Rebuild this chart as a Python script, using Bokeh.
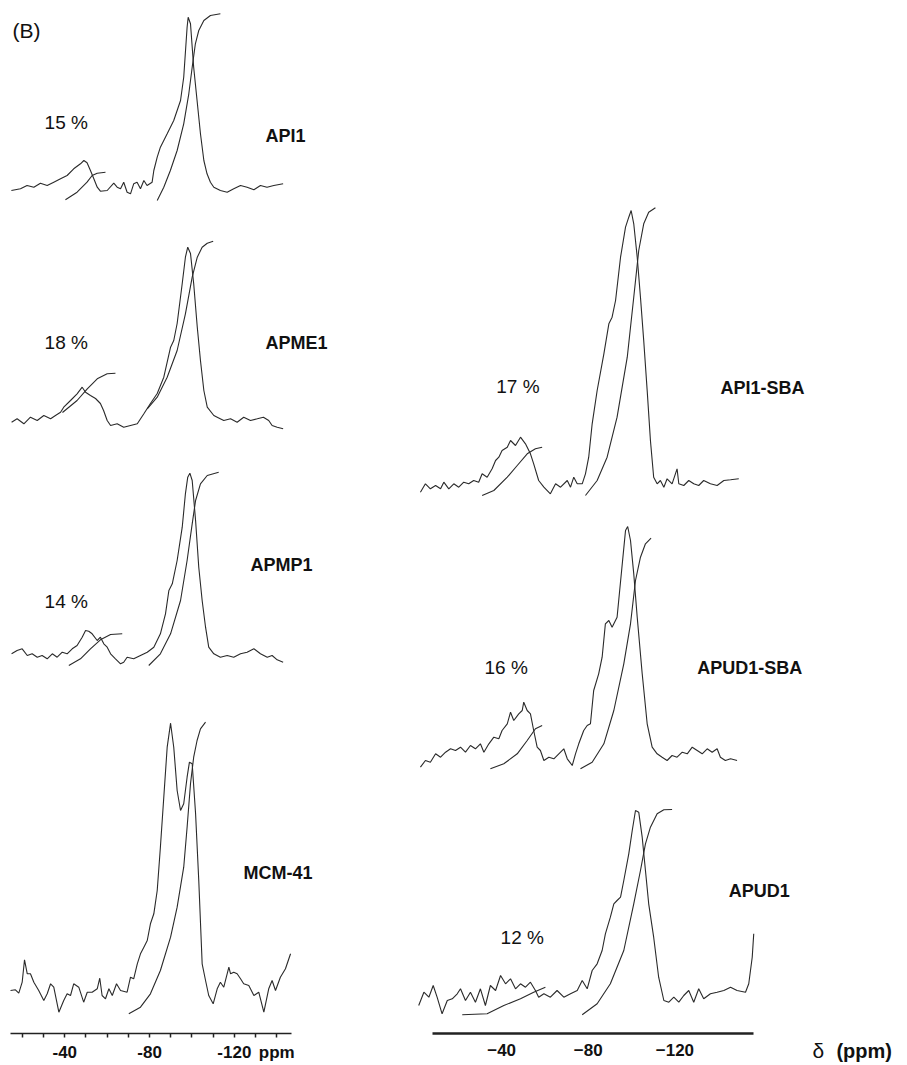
from bokeh.plotting import figure
from bokeh.layouts import row
from bokeh.models import Range1d, FixedTicker
from bokeh.core.properties import value
from bokeh.embed import file_html
from bokeh.resources import INLINE

FONT = "Liberation Sans"
INK = "#2a2a2a"

# ---------------- data: (chemical shift ppm, intensity a.u.) ----------------
API1_TRACE = [(-14.8,0),(-19.1,1.7),(-22.2,5),(-25.4,3.3),(-28.5,7.3),(-31.7,5),(-34.8,8.3),(-38.0,11.7),(-41.1,15),(-44.2,21.7),(-47.4,26.7),(-49.0,30),(-50.5,27.7),(-52.1,20),(-53.7,11.7),(-55.3,3.3),(-56.8,-0.7),(-60.0,0),(-63.1,7.3),(-64.7,3.3),(-66.3,1.7),(-67.8,8.3),(-69.4,-1.7),(-71.0,-3.3),(-72.5,6.7),(-74.1,8.3),(-75.7,1.7),(-77.3,10),(-78.8,5),(-81.2,8.3),(-82.0,20),(-83.6,33.3),(-85.1,43.3),(-88.3,56.7),(-91.4,70),(-94.6,90),(-96.1,113.3),(-97.7,163.3),(-98.2,173.3),(-99.3,166.7),(-100.8,123.3),(-102.4,90),(-104.0,56.7),(-105.6,30),(-107.1,16.7),(-108.7,8.3),(-110.3,3.3),(-113.4,0),(-116.6,-1.7),(-119.7,1.7),(-122.9,5),(-126.0,3.3),(-129.2,0.7),(-132.3,5),(-135.4,3.3),(-138.6,5),(-143.0,6.7)]
API1_INT_T = [(-40.3,-9.3),(-45.8,-1.7),(-50.5,8.3),(-52.9,15),(-55.3,17.3),(-59.2,18.3)]
API1_INT_Q = [(-83.6,-10),(-86.7,3.3),(-89.8,20),(-93.0,40),(-96.1,66.7),(-98.5,96.7),(-100.1,123.3),(-101.6,146.7),(-103.2,160),(-105.6,170),(-108.7,175),(-113.4,176.7)]

APME1_TRACE = [(-14.9,0.3),(-17.5,3.7),(-20.7,-1.3),(-23.8,5.3),(-27.0,2),(-30.1,7),(-33.3,3.7),(-35.6,7),(-38.0,10.3),(-39.5,15.3),(-42.7,22),(-45.8,28.7),(-48.2,35.3),(-49.8,30.3),(-52.1,27),(-54.5,24),(-56.8,19),(-58.3,12),(-60.0,2),(-61.6,-3),(-64.7,-1.3),(-67.8,-4.7),(-71.0,-3),(-74.2,-1.3),(-77.3,8.7),(-80.4,19),(-83.6,29),(-86.7,45.3),(-89.9,75.3),(-91.4,82),(-93.0,99),(-95.4,139),(-96.9,165.3),(-98.0,175.3),(-99.3,169),(-100.8,139),(-102.5,95.3),(-104.0,62),(-105.6,32),(-107.2,15.3),(-110.3,7),(-111.9,5.3),(-115.0,2),(-118.2,3.7),(-121.3,0.3),(-124.4,5.3),(-127.6,2),(-130.8,3.7),(-133.7,5.3),(-136.2,2),(-137.8,-3),(-140.2,-4.7),(-143.0,-6.3)]
APME1_INT_T = [(-38.9,10),(-45.8,22),(-50.6,33.7),(-55.3,43.7),(-60.0,48.7),(-63.9,49.3)]
APME1_INT_Q = [(-78.9,13.7),(-83.6,25.3),(-88.3,45.3),(-93.0,72),(-96.9,108.7),(-100.1,145.3),(-102.5,165.3),(-104.8,175.3),(-107.2,179.3),(-110.0,181.3)]

APMP1_TRACE = [(-14.9,1.7),(-17.5,5),(-19.9,6.7),(-22.3,0),(-24.6,1.7),(-27.0,-1.7),(-29.3,0),(-31.7,-3.3),(-34.1,1.7),(-36.4,-1.7),(-38.8,3.3),(-41.1,1.7),(-43.5,6.7),(-45.8,10),(-48.2,18.3),(-49.8,25),(-51.3,24.3),(-52.9,21.7),(-55.3,15),(-56.8,18.3),(-58.4,11.7),(-60.0,8.3),(-61.6,1.7),(-63.9,-3.3),(-66.3,-8.3),(-67.8,-6.7),(-69.4,-1.7),(-72.5,-3.3),(-75.7,0),(-78.9,3.3),(-82.0,8.3),(-85.1,21.7),(-87.5,41.7),(-89.1,65),(-90.7,71.7),(-93.0,95),(-95.4,128.3),(-96.9,161.7),(-98.0,178.3),(-99.0,182.3),(-100.1,175),(-101.7,135),(-103.2,88.3),(-104.8,55),(-106.4,28.3),(-107.9,8.3),(-110.3,1.7),(-113.4,-1.7),(-116.6,0),(-119.7,-1.7),(-122.9,1.7),(-126.0,3.3),(-129.2,6.7),(-132.3,1.7),(-135.5,-1.7),(-137.8,0),(-140.2,-4.3),(-143.0,-6.7)]
APMP1_INT_T = [(-41.9,-10),(-47.4,-3.3),(-52.1,6.7),(-56.8,15.7),(-61.6,21),(-67.1,21.7)]
APMP1_INT_Q = [(-79.6,-10),(-85.1,1.7),(-89.9,21.7),(-94.6,55),(-97.7,95),(-100.1,131.7),(-101.7,155),(-104.0,171.7),(-107.2,180),(-112.6,183.3)]

MCM41_TRACE = [(-14.4,0),(-16.7,0.7),(-18.3,-2.7),(-19.9,8.3),(-21.0,30.7),(-22.3,16.7),(-23.8,16.7),(-25.4,8.3),(-27.7,0),(-30.1,-10),(-31.7,-3.3),(-33.3,6.7),(-34.8,3.3),(-37.2,-21.7),(-39.5,-10),(-41.1,-3.3),(-42.7,-5),(-44.2,6.7),(-46.6,3.3),(-48.9,-11.7),(-50.6,-1.7),(-52.9,-1.7),(-55.3,1.7),(-56.5,12.3),(-57.6,-5),(-59.2,-8.3),(-60.8,1.7),(-62.4,-5),(-64.4,6.7),(-66.3,0),(-69.4,-1.7),(-71.0,13.3),(-72.5,11.7),(-74.2,26.7),(-75.7,36.7),(-77.3,43.3),(-78.9,50),(-80.4,66.7),(-82.0,76.7),(-83.6,100),(-85.1,143.3),(-86.7,193.3),(-88.3,243.3),(-89.9,267.3),(-91.4,243.3),(-93.0,200),(-94.6,180),(-96.1,186.7),(-97.7,213.3),(-98.8,228.3),(-100.1,226.7),(-101.7,176.7),(-103.2,110),(-104.8,26.7),(-106.4,10),(-107.9,-5),(-110.0,-13.3),(-111.9,1.7),(-113.4,8.3),(-115.0,3.3),(-117.4,23.3),(-118.2,16.7),(-119.7,18.3),(-121.3,16.7),(-122.9,11.7),(-124.4,6.7),(-126.8,5),(-129.2,-5),(-131.5,-1.7),(-133.9,-21.7),(-136.2,1.7),(-137.8,10),(-139.4,0),(-141.7,13.3),(-144.1,21.7),(-146.5,36.7)]
MCM41_INT_Q = [(-70.2,-23.3),(-75.7,-16.7),(-80.4,-3.3),(-85.1,20),(-89.9,53.3),(-93.0,83.3),(-96.1,123.3),(-97.7,163.3),(-99.3,206.7),(-100.8,233.3),(-102.4,250),(-104.0,261.7),(-106.4,268.3)]

API1_SBA_TRACE = [(-2.5,-6.7),(-4.8,1.7),(-7.1,-3.3),(-9.5,0),(-11.8,-3.3),(-13.3,3.3),(-15.6,-3.3),(-17.9,1.7),(-20.2,-1.7),(-22.5,3.3),(-24.8,1.7),(-27.1,5),(-29.4,3.3),(-31.0,11.7),(-33.3,8.3),(-35.6,16.7),(-37.2,25),(-38.7,28.3),(-40.2,35),(-42.6,38.3),(-44.1,45),(-46.4,40),(-48.7,48.3),(-51.0,41.7),(-53.3,31.7),(-54.8,21.7),(-57.1,5),(-59.5,-1.7),(-62.5,-8.3),(-64.9,1.7),(-67.2,-1.7),(-70.3,5),(-71.8,-1.7),(-73.3,8.3),(-74.9,1.7),(-77.2,1.7),(-78.7,11.7),(-80.2,28.3),(-81.8,61.7),(-84.1,95),(-87.2,131.7),(-89.5,161.7),(-91.0,168.3),(-92.6,185),(-94.9,228.3),(-97.2,258.3),(-98.7,268.3),(-99.8,275),(-101.0,261.7),(-102.6,228.3),(-104.1,188.3),(-105.6,145),(-107.2,95),(-108.7,45),(-110.2,8.3),(-111.8,1.7),(-113.3,5),(-114.9,-1.7),(-116.4,6.7),(-118.7,1.7),(-121.0,16.7),(-121.8,1.7),(-124.1,0),(-126.4,5),(-128.7,1.7),(-131.0,0),(-133.3,5),(-136.4,1.7),(-139.5,0),(-142.6,5),(-145.7,5.7),(-149.5,6.7)]
API1_SBA_INT_T = [(-31.0,-10),(-36.4,-5),(-42.6,8.3),(-47.2,20),(-51.8,31.7),(-55.6,36.7),(-58.7,38.3)]
API1_SBA_INT_Q = [(-78.7,-10),(-84.1,5),(-88.7,28.3),(-93.3,68.3),(-98.0,128.3),(-101.0,188.3),(-103.3,235),(-105.6,261.7),(-107.9,273.3),(-111.0,277.7)]

APUD1_SBA_TRACE = [(-2.5,-6.7),(-4.8,0),(-7.1,-1.7),(-9.5,6.7),(-11.8,3.3),(-14.1,8.3),(-16.4,11.7),(-18.7,10),(-21.0,13.3),(-23.3,8.3),(-25.6,15),(-27.9,11.7),(-30.2,16.7),(-31.8,8.3),(-34.1,16.7),(-36.4,23.3),(-38.7,21.7),(-40.2,30),(-42.6,36.7),(-44.1,48.3),(-45.6,40),(-47.9,46.7),(-49.5,50),(-50.2,58.3),(-51.8,50),(-53.3,46.7),(-54.8,30),(-56.4,13.3),(-57.9,10),(-59.5,0),(-61.8,3.3),(-64.1,1.7),(-66.4,6.7),(-68.7,11.7),(-70.3,1.7),(-72.6,-5),(-74.1,6.7),(-75.6,16.7),(-77.9,30),(-79.5,35),(-81.0,36.7),(-82.5,70),(-84.8,86.7),(-86.4,103.3),(-87.9,136.7),(-89.5,140),(-91.0,133.3),(-93.3,143.3),(-95.7,196.7),(-97.2,230),(-98.2,234),(-99.5,220),(-101.0,186.7),(-102.6,143.3),(-104.9,86.7),(-107.2,36.7),(-109.5,13.3),(-111.8,6.7),(-114.1,3.3),(-116.4,0),(-118.7,5),(-121.0,3.3),(-123.4,8.3),(-125.7,6.7),(-128.0,13.3),(-130.3,10),(-132.6,6.7),(-134.9,11.7),(-137.2,8.3),(-139.5,11.7),(-141.0,3.3),(-143.3,0),(-145.7,1.7),(-148.7,0)]
APUD1_SBA_INT_T = [(-34.8,-8.3),(-41.0,-3.3),(-47.2,6.7),(-51.8,20),(-55.6,31.7),(-58.7,35)]
APUD1_SBA_INT_Q = [(-76.4,-8.3),(-81.8,-1.7),(-87.2,16.7),(-91.8,50),(-96.4,96.7),(-99.5,136.7),(-101.8,180),(-104.1,203.3),(-106.4,216.7),(-109.0,222.3)]

APUD1_TRACE = [(-1.7,-10),(-4.1,3.3),(-6.4,-1.7),(-8.4,10),(-10.2,-1.7),(-12.5,-18.3),(-14.9,-5),(-17.2,-3.3),(-19.5,1.7),(-21.0,6.7),(-23.3,-5),(-25.6,3.3),(-27.9,-6.7),(-30.2,6.7),(-32.5,-10),(-34.8,10),(-37.2,5),(-39.5,20),(-41.8,11.7),(-44.1,16.7),(-46.4,6.7),(-48.7,11.7),(-51.0,8.3),(-53.3,13.3),(-55.6,5),(-57.1,-1.7),(-59.5,1.7),(-62.5,-1.7),(-65.6,5),(-68.7,-1.7),(-71.8,1.7),(-74.9,5),(-77.2,15),(-79.5,6.7),(-81.8,25),(-84.1,31.7),(-86.4,45),(-87.9,61.7),(-90.2,78.3),(-91.8,91.7),(-93.3,95),(-94.9,98.3),(-96.4,115),(-98.7,141.7),(-100.3,165),(-101.8,185),(-103.3,183.3),(-104.9,158.3),(-106.4,125),(-107.9,91.7),(-110.2,58.3),(-112.5,18.3),(-114.9,-5),(-117.2,-6.7),(-119.5,-1.7),(-121.8,-6.7),(-124.1,0),(-126.4,5),(-128.7,-6.7),(-131.0,6.7),(-133.3,-3.3),(-136.4,1.7),(-139.5,3.3),(-142.6,5),(-145.7,8.3),(-148.7,5),(-152.6,3.3),(-154.1,11.7),(-155.7,38.3),(-156.4,61.7)]
APUD1_INT_T = [(-21.8,-19.3),(-33.3,-18.3),(-41.0,-10),(-48.7,-3.3),(-54.8,3.3),(-60.2,8.3)]
APUD1_INT_Q = [(-77.2,-19.3),(-84.1,-8.3),(-90.2,11.7),(-96.4,45),(-101.0,91.7),(-104.1,125),(-106.4,151.7),(-108.7,168.3),(-111.8,181.7),(-114.9,185.7),(-118.7,186)]

LEFT_NAMES = ["API1", "APME1", "APMP1", "MCM-41"]
RIGHT_NAMES = ["API1-SBA", "APUD1-SBA", "APUD1"]
LEFT_PERCENTS = ["15 %", "18 %", "14 %"]
RIGHT_PERCENTS = ["17 %", "16 %", "12 %"]
LEFT_TICKS = [-20, -30, -40, -50, -60, -70, -80, -90, -100, -110, -120, -130, -140]
LEFT_TICK_LABELS = {-40: "-40", -80: "-80", -120: "-120", -140: "ppm"}
RIGHT_TICKS = [-40, -80, -120]
X_TITLE_SYMBOL = "δ"
X_TITLE_UNIT = "(ppm)"

# ---------------- layout constants (positions, not data) ----------------
LEFT_BASES = [190, 422, 655, 990]
RIGHT_BASES = [485, 760, 995]
LEFT_NAME_POS = [(-134.7, 135), (-134.7, 342), (-127.6, 564), (-124.3, 872)]
RIGHT_NAME_POS = [(-141.0, 387), (-130.3, 667), (-144.9, 890)]
LEFT_PCT_POS = [(-40.7, 122), (-40.7, 342), (-40.7, 601)]
RIGHT_PCT_POS = [(-47.5, 386), (-42.1, 667), (-49.5, 937)]
X_SYMBOL_POS = (-183.5, 1050)
X_UNIT_POS = (-194.6, 1050)

LEFT_SPECTRA = [
    [API1_TRACE, API1_INT_T, API1_INT_Q],
    [APME1_TRACE, APME1_INT_T, APME1_INT_Q],
    [APMP1_TRACE, APMP1_INT_T, APMP1_INT_Q],
    [MCM41_TRACE, MCM41_INT_Q],
]
RIGHT_SPECTRA = [
    [API1_SBA_TRACE, API1_SBA_INT_T, API1_SBA_INT_Q],
    [APUD1_SBA_TRACE, APUD1_SBA_INT_T, APUD1_SBA_INT_Q],
    [APUD1_TRACE, APUD1_INT_T, APUD1_INT_Q],
]

H = 1065


def make_fig(width, x0, x1):
    p = figure(width=width, height=H, x_range=Range1d(x0, x1), y_range=Range1d(H, 0),
               output_backend="svg", toolbar_location=None, y_axis_location=None,
               min_border_left=0, min_border_right=0, min_border_top=0,
               min_border_bottom=0)
    p.outline_line_color = None
    p.grid.visible = False
    p.background_fill_color = "white"
    p.border_fill_color = "white"
    ax = p.xaxis[0]
    ax.minor_tick_line_color = None
    ax.axis_line_color = "#222222"
    ax.major_tick_line_color = "#222222"
    ax.major_label_text_font = FONT
    ax.major_label_text_font_size = "17px"
    ax.major_label_text_font_style = "bold"
    ax.major_label_text_color = "#111111"
    return p


def draw(p, groups, bases):
    for curves, base in zip(groups, bases):
        for pts in curves:
            xs = [a for a, b in pts]
            ys = [base - b for a, b in pts]
            p.line(xs, ys, line_color=INK, line_width=1.1)


def labels(p, names, name_pos, pcts, pct_pos):
    p.text(x=[q[0] for q in name_pos], y=[q[1] for q in name_pos], text=names,
           text_font=value(FONT), text_font_size="18px", text_font_style="bold",
           text_align="left", text_baseline="middle", text_color="#111111")
    p.text(x=[q[0] for q in pct_pos], y=[q[1] for q in pct_pos], text=pcts,
           text_font=value(FONT), text_font_size="19px",
           text_align="center", text_baseline="middle", text_color="#111111")


# left column: 2.12 px per ppm, -40 ppm at x 64.3
pL = make_fig(413, -9.67, -204.5)
axL = pL.xaxis[0]
axL.fixed_location = 1032.5
axL.ticker = FixedTicker(ticks=LEFT_TICKS)
axL.major_label_overrides = {t: LEFT_TICK_LABELS.get(t, "") for t in LEFT_TICKS}
axL.major_tick_in = 0
axL.major_tick_out = 4
axL.major_tick_line_width = 1.5
axL.axis_line_width = 1.6
axL.major_label_standoff = 6
axL.bounds = (-146.8, -14.4)
draw(pL, LEFT_SPECTRA, LEFT_BASES)
labels(pL, LEFT_NAMES, LEFT_NAME_POS, LEFT_PERCENTS, LEFT_PCT_POS)
pL.text(x=[-15.3], y=[30], text=["(B)"], text_font=value(FONT), text_font_size="21px",
        text_align="left", text_baseline="middle", text_color="#111111")

# right column: 2.166 px per ppm, -80 ppm at x 587.8
pR = make_fig(494, 0.7, -227.4)
axR = pR.xaxis[0]
axR.fixed_location = 1033
axR.ticker = FixedTicker(ticks=RIGHT_TICKS)
axR.major_tick_in = 0
axR.major_tick_out = 0
axR.axis_line_width = 2.6
axR.major_label_standoff = 10
axR.bounds = (-156.4, -8.2)
draw(pR, RIGHT_SPECTRA, RIGHT_BASES)
labels(pR, RIGHT_NAMES, RIGHT_NAME_POS, RIGHT_PERCENTS, RIGHT_PCT_POS)
pR.text(x=[X_SYMBOL_POS[0]], y=[X_SYMBOL_POS[1]], text=[X_TITLE_SYMBOL], text_font=value(FONT),
        text_font_size="21px", text_align="left", text_baseline="middle", text_color="#111111")
pR.text(x=[X_UNIT_POS[0]], y=[X_UNIT_POS[1]], text=[X_TITLE_UNIT], text_font=value(FONT),
        text_font_size="20px", text_font_style="bold", text_align="left",
        text_baseline="middle", text_color="#111111")

layout = row(pL, pR)
open("out.html", "w").write(file_html(layout, INLINE))
